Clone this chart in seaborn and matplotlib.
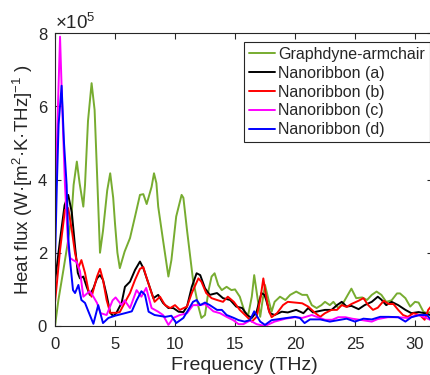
import matplotlib
import numpy as np
import pandas as pd

matplotlib.use("Agg")
import matplotlib.pyplot as plt  # noqa: E402
import seaborn as sns  # noqa: E402
from matplotlib.ticker import ScalarFormatter  # noqa: E402

# values, flux in units of 1e5 W/(m2.K.THz)
SCALE = 1e5

freq_green = [0, 0.28, 0.7, 1.1, 1.4, 1.55, 1.82, 2.05, 2.36, 2.5, 2.75, 3.05, 3.3, 3.5,
              3.75, 4.0, 4.35, 4.6, 4.85, 5.0, 5.2, 5.4, 5.8, 6.25, 6.67, 7.08, 7.36, 7.64,
              8.05, 8.25, 8.45, 8.6, 9.0, 9.45, 9.7, 10.1, 10.55, 10.7, 11.0, 11.5, 11.95,
              12.2, 12.5, 12.8, 13.05, 13.3, 13.6, 13.9, 14.3, 14.7, 15.0, 15.4, 15.8, 16.1,
              16.4, 16.6, 16.9, 17.1, 17.3, 17.5, 17.8, 18.05, 18.3, 18.75, 19.2, 19.6, 20.1,
              20.6, 21.0, 21.4, 21.8, 22.2, 22.5, 22.9, 23.2, 23.6, 24.0, 24.4, 24.7, 25.1,
              25.6, 26.0, 26.4, 26.8, 27.2, 27.6, 28.05, 28.5, 28.75, 29.2, 29.6, 30.0, 30.3,
              30.7, 31.0, 31.5]
flux_green = [0, 0.7, 1.53, 2.35, 3.1, 3.85, 4.49, 3.9, 3.26, 3.85, 5.6, 6.63, 5.9, 4.2,
              2.0, 2.6, 3.7, 4.17, 3.5, 2.8, 2.0, 1.58, 2.03, 2.4, 2.99, 3.58, 3.6, 3.33,
              3.8, 4.17, 3.9, 3.26, 2.35, 1.35, 1.8, 2.99, 3.58, 3.5, 2.62, 1.26, 0.53,
              0.22, 0.3, 0.98, 1.35, 1.44, 1.12, 0.98, 1.07, 0.98, 1.0, 0.8, 0.39, 0.3,
              0.8, 1.39, 0.71, 0.25, 0.7, 1.12, 0.71, 0.39, 0.66, 0.8, 0.71, 0.85, 0.94,
              0.85, 0.85, 0.57, 0.49, 0.57, 0.66, 0.57, 0.66, 0.49, 0.62, 0.85, 1.02, 0.76,
              0.78, 0.71, 0.85, 0.94, 0.85, 0.66, 0.7, 0.89, 0.89, 0.76, 0.53, 0.66, 0.64,
              0.39, 0.35, 0.4]

freq_a = [0, 0.4, 0.8, 1.1, 1.4, 1.67, 1.9, 2.08, 2.36, 2.64, 2.9, 3.2, 3.5, 3.75, 4.0,
          4.3, 4.6, 4.86, 5.1, 5.55, 5.83, 6.25, 6.67, 7.08, 7.36, 7.78, 8.2, 8.6, 9.0,
          9.45, 9.86, 10.3, 10.7, 11.0, 11.4, 11.8, 12.1, 12.5, 12.9, 13.5, 14.0, 14.6,
          15.1, 15.6, 16.0, 16.4, 16.8, 17.2, 17.45, 17.6, 17.9, 18.3, 18.9, 19.4, 20.1,
          20.7, 21.1, 21.5, 21.9, 22.5, 23.05, 23.5, 23.9, 24.3, 24.7, 25.3, 25.8, 26.4,
          26.9, 27.2, 27.6, 28.05, 28.6, 29.2, 29.7, 30.3, 30.8, 31.25, 31.5]
flux_a = [1.2, 2.3, 3.3, 3.58, 3.1, 2.17, 1.45, 1.3, 1.35, 1.07, 0.85, 1.03, 1.3, 1.39, 1.26,
          0.85, 0.36, 0.27, 0.35, 0.63, 1.07, 1.21, 1.53, 1.76, 1.58, 1.17, 0.76, 0.85, 0.63,
          0.49, 0.49, 0.39, 0.38, 0.53, 1.07, 1.44, 1.39, 1.03, 0.85, 0.9, 0.76, 0.71,
          0.53, 0.49, 0.3, 0.22, 0.39, 0.9, 0.85, 0.71, 0.35, 0.3, 0.39, 0.37, 0.44,
          0.35, 0.49, 0.37, 0.4, 0.44, 0.44, 0.57, 0.66, 0.53, 0.55, 0.46, 0.57, 0.66,
          0.8, 0.72, 0.57, 0.66, 0.57, 0.44, 0.35, 0.38, 0.35, 0.3, 0.35]

freq_b = [0, 0.42, 0.83, 1.1, 1.4, 1.67, 1.94, 2.2, 2.5, 2.78, 3.05, 3.5, 3.75, 4.0, 4.3,
          4.6, 5.1, 5.4, 5.8, 6.25, 6.67, 7.08, 7.36, 7.6, 8.05, 8.3, 8.75, 9.17, 9.6,
          10.0, 10.4, 11.0, 11.4, 11.95, 12.2, 12.6, 13.05, 13.5, 14.0, 14.4, 14.9, 15.4,
          16.0, 16.4, 16.8, 17.1, 17.36, 17.6, 17.8, 18.05, 18.5, 19.0, 19.4, 20.0, 20.6,
          21.1, 21.7, 22.1, 22.5, 23.05, 23.5, 23.9, 24.3, 24.7, 25.3, 25.7, 26.1, 26.5,
          26.9, 27.4, 27.8, 28.2, 28.6, 29.0, 29.4, 29.86, 30.4, 30.8, 31.1, 31.5]
flux_b = [0.63, 2.07, 3.17, 3.22, 2.62, 1.99, 1.58, 1.8, 1.45, 0.98, 0.8, 1.35, 1.56, 1.26,
          0.71, 0.36, 0.36, 0.38, 0.63, 0.9, 1.26, 1.56, 1.61, 1.35, 0.9, 0.66, 0.8, 0.57,
          0.49, 0.57, 0.44, 0.53, 0.9, 1.3, 1.21, 0.9, 0.76, 0.71, 0.66, 0.8, 0.66, 0.44,
          0.25, 0.12, 0.25, 0.71, 1.3, 0.8, 0.44, 0.24, 0.35, 0.57, 0.66, 0.64, 0.62,
          0.53, 0.35, 0.25, 0.35, 0.44, 0.44, 0.57, 0.52, 0.6, 0.69, 0.76, 0.57, 0.44,
          0.5, 0.69, 0.6, 0.6, 0.44, 0.3, 0.25, 0.35, 0.3, 0.17, 0.44, 0.6]

freq_c = [0, 0.2, 0.42, 0.6, 0.83, 1.1, 1.25, 1.5, 1.8, 2.08, 2.36, 2.9, 3.2, 3.5, 3.8,
          4.3, 4.8, 5.05, 5.55, 5.8, 6.25, 6.8, 7.2, 7.6, 8.05, 8.6, 9.0, 9.45, 9.86,
          10.4, 11.0, 11.5, 12.1, 12.5, 13.2, 13.75, 14.3, 14.85, 15.3, 15.7, 16.25, 16.8,
          17.5, 18.3, 19.2, 20.0, 20.6, 21.4, 21.9, 22.5, 23.1, 23.6, 24.2, 24.75, 25.6,
          26.4, 26.9, 27.75, 28.6, 29.4, 30.25, 30.8, 31.25, 31.5]
flux_c = [2.7, 5.5, 7.9, 6.0, 3.85, 2.17, 1.86, 1.8, 1.75, 1.5, 0.8, 0.95, 0.8, 0.63, 0.35,
          0.3, 0.7, 0.78, 0.57, 0.7, 0.49, 0.98, 0.8, 1.04, 0.49, 0.39, 0.3, 0.03, 0.22,
          0.3, 0.35, 0.57, 0.57, 0.6, 0.4, 0.35, 0.25, 0.16, 0.05, 0.05, 0.15, 0.05,
          0.0, 0.12, 0.2, 0.24, 0.22, 0.3, 0.24, 0.17, 0.17, 0.24, 0.24, 0.2, 0.16,
          0.12, 0.19, 0.24, 0.24, 0.22, 0.3, 0.24, 0.17, 0.15]

freq_d = [0, 0.15, 0.3, 0.55, 0.75, 0.97, 1.1, 1.25, 1.5, 1.67, 1.95, 2.2, 2.5, 2.78, 3.2,
          3.6, 4.0, 4.45, 5.0, 5.83, 6.4, 6.8, 7.2, 7.5, 7.8, 8.3, 9.2, 9.7, 10.1, 10.7,
          11.5, 11.8, 12.1, 12.5, 12.9, 13.5, 13.9, 14.3, 14.9, 15.3, 15.8, 16.25, 16.6,
          17.1, 17.5, 18.05, 18.9, 20.0, 20.4, 20.8, 21.25, 22.1, 22.9, 23.6, 24.3, 25.0,
          25.7, 26.4, 27.1, 27.8, 28.6, 29.2, 29.7, 30.4, 31.0, 31.3, 31.5]
flux_d = [1.7, 3.8, 5.5, 6.56, 5.0, 3.85, 2.44, 1.8, 0.98, 0.9, 1.12, 0.71, 0.63, 0.4, 0.06,
          0.57, 0.08, 0.22, 0.28, 0.35, 0.4, 0.7, 0.95, 0.85, 0.39, 0.3, 0.25, 0.28, 0.08, 0.22,
          0.66, 0.71, 0.57, 0.64, 0.57, 0.44, 0.44, 0.3, 0.22, 0.16, 0.12, 0.16, 0.4,
          0.12, 0.03, 0.16, 0.2, 0.25, 0.22, 0.08, 0.18, 0.18, 0.12, 0.16, 0.2, 0.12,
          0.2, 0.18, 0.25, 0.25, 0.24, 0.12, 0.24, 0.3, 0.3, 0.18, 0.15]

names = ["Graphdyne-armchair", "Nanoribbon (a)", "Nanoribbon (b)",
         "Nanoribbon (c)", "Nanoribbon (d)"]
colors = ["#77AC30", "#000000", "#FF0000", "#FF00FF", "#0000FF"]
series = [(freq_green, flux_green), (freq_a, flux_a), (freq_b, flux_b),
          (freq_c, flux_c), (freq_d, flux_d)]

df = pd.concat([pd.DataFrame({"freq": f, "flux": np.array(v) * SCALE, "name": n})
                for (f, v), n in zip(series, names)], ignore_index=True)

sns.set_theme(style="ticks")
plt.rcParams["font.family"] = ["Liberation Sans", "DejaVu Sans"]
plt.rcParams["mathtext.fontset"] = "custom"
plt.rcParams["mathtext.rm"] = "Liberation Sans"
plt.rcParams["mathtext.it"] = "Liberation Sans:italic"

fig = plt.figure(figsize=(4.31, 3.75), dpi=100)
ax = fig.add_axes([55 / 431, 49 / 375, 378 / 431, 293 / 375])

for n, c in zip(names, colors):
    sns.lineplot(data=df[df["name"] == n], x="freq", y="flux", color=c, lw=1.4,
                 sort=False, estimator=None, label=n, ax=ax)

ax.set_xlim(0, 31.5)
ax.set_ylim(0, 8e5)
ax.set_xticks([0, 5, 10, 15, 20, 25, 30])
ax.set_yticks([0, 2e5, 4e5, 6e5, 8e5])
fmt = ScalarFormatter(useMathText=True)
fmt.set_powerlimits((0, 0))
ax.yaxis.set_major_formatter(fmt)
ax.yaxis.get_offset_text().set_fontsize(13.5)
ax.yaxis.get_offset_text().set_color("#262626")

ax.tick_params(direction="in", top=True, right=True, length=4, width=0.8,
               labelsize=12, colors="#262626")
ax.tick_params(axis="x", pad=8)
ax.tick_params(axis="y", pad=5)
for s in ax.spines.values():
    s.set_color("#262626")
    s.set_linewidth(0.8)

ax.set_xlabel("Frequency (THz)", fontsize=14, color="#262626", labelpad=3.5)
ax.set_ylabel("Heat flux (W·[m$^2$·K·THz]$^{-1}$ )", fontsize=13.5,
              color="#262626", labelpad=2)

leg = ax.legend(loc="upper right", bbox_to_anchor=(0.992, 0.969), borderaxespad=0,
                fontsize=11.5, frameon=True, fancybox=False, framealpha=1,
                edgecolor="#262626", handlelength=1.65, handletextpad=0.2,
                labelspacing=0.24, borderpad=0.3)
leg.get_frame().set_linewidth(0.8)

fig.savefig("out.png", dpi=100)
